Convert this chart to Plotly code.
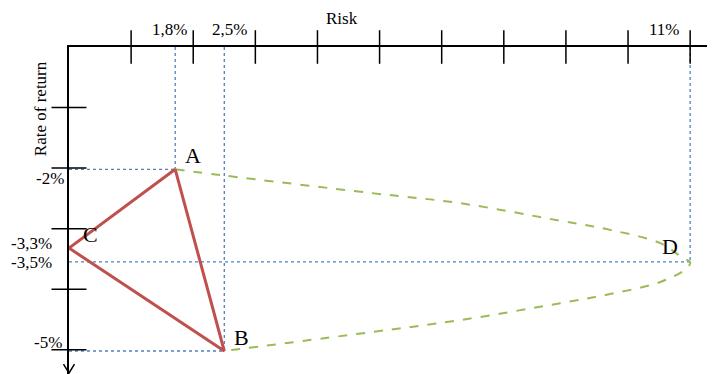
import plotly.graph_objects as go

# Portfolios (x in tick units, the picture is not to scale)
points = ["A", "B", "C", "D"]
risk = [1.71, 2.50, 0.0, 10.0]
ret = [-2.02, -5.02, -3.32, -3.55]

# Labels written on the axes
risk_labels = ["1,8%", "2,5%", "", "11%"]
ret_labels = ["-2%", "-5%", "-3,3%", "-3,5%"]

# Axis ticks
x_ticks = [1, 2, 3, 4, 5, 6, 7, 8, 9, 10]
y_ticks = [-1, -2, -3, -4, -5]

# Efficient frontier (green dashed curve) A -> D -> B
frontier_risk = [1.71, 2.48, 4.85, 6.30, 7.91, 8.71, 9.52, 9.89, 10.0,
                 9.95, 9.52, 8.71, 7.91, 6.30, 4.85, 2.50]
frontier_ret = [-2.02, -2.12, -2.41, -2.58, -2.87, -3.02, -3.24, -3.49, -3.55,
                -3.65, -3.88, -4.08, -4.23, -4.51, -4.71, -5.02]

FONT = "Liberation Serif, Times New Roman, serif"
RED = "#C0504D"
GREEN = "#9BBB59"
BLUE = "#4F81BD"

fig = go.Figure()

# dotted guide lines for A, B, D
gx, gy = [], []
for i in [0, 1, 3]:
    gx += [risk[i], risk[i], None, 0, risk[i], None]
    gy += [0, ret[i], None, ret[i], ret[i], None]
fig.add_trace(go.Scatter(x=gx, y=gy, mode="lines",
                         line=dict(color=BLUE, width=1.3, dash="dot"),
                         hoverinfo="skip"))

# frontier
fig.add_trace(go.Scatter(x=frontier_risk, y=frontier_ret, mode="lines",
                         line=dict(color=GREEN, width=2, dash="dash",
                                   shape="spline", smoothing=1)))

# triangle A-B-C
tri = [0, 1, 2, 0]
fig.add_trace(go.Scatter(x=[risk[i] for i in tri], y=[ret[i] for i in tri],
                         mode="lines", line=dict(color=RED, width=3)))

# tick marks crossing the axes
fig.add_trace(go.Scatter(x=x_ticks, y=[0] * len(x_ticks), mode="markers",
                         marker=dict(symbol="line-ns", size=24,
                                     line=dict(color="black", width=1.5)),
                         cliponaxis=False))
fig.add_trace(go.Scatter(x=[0] * len(y_ticks), y=y_ticks, mode="markers",
                         marker=dict(symbol="line-ew", size=25,
                                     line=dict(color="black", width=1.5)),
                         cliponaxis=False))

annotations = []
# point letters
letter_shift = [(18, 14), (17, 13), (21, 14), (-20, 15)]
for i, p in enumerate(points):
    annotations.append(dict(x=risk[i], y=ret[i], text=p, showarrow=False,
                            xshift=letter_shift[i][0], yshift=letter_shift[i][1],
                            font=dict(family=FONT, size=22, color="black")))
# risk labels above the axis
risk_shift = [-6, 5, 0, -8]
risk_anchor = ["center", "center", "center", "right"]
for i, lab in enumerate(risk_labels):
    if lab:
        annotations.append(dict(x=risk[i], y=0, text=lab, showarrow=False,
                                xanchor=risk_anchor[i], xshift=risk_shift[i], yshift=18,
                                font=dict(family=FONT, size=17, color="black")))
# return labels left of the axis
ret_xshift = [-3, -5, -15, -15]
ret_yshift = [-9, 8, 5, -1]
for i, lab in enumerate(ret_labels):
    annotations.append(dict(x=0, y=ret[i], text=lab, showarrow=False,
                            xanchor="right", xshift=ret_xshift[i], yshift=ret_yshift[i],
                            font=dict(family=FONT, size=17, color="black")))
# axis titles
annotations.append(dict(x=0.4226, y=1, xref="paper", yref="paper", text="Risk",
                        showarrow=False, xanchor="center", yanchor="middle", yshift=29,
                        font=dict(family=FONT, size=17, color="black")))
annotations.append(dict(x=0, y=0.81, xref="paper", yref="paper", text="Rate of return",
                        showarrow=False, textangle=-90, xanchor="center",
                        yanchor="middle", xshift=-29,
                        font=dict(family=FONT, size=17, color="black")))

# the page body has an 8px margin, so the figure margins are trimmed by 8px
fig.update_layout(
    width=715, height=374,
    margin=dict(l=61, r=8, t=39, b=8, autoexpand=False),
    paper_bgcolor="white", plot_bgcolor="white",
    showlegend=False,
    annotations=annotations,
    shapes=[dict(type="path", xref="paper", yref="paper",
                 path="M -0.0085,0.03 L 0,0.003 L 0.0085,0.03",
                 line=dict(color="black", width=1.5))],
    xaxis=dict(range=[0, 10.40], side="top", showline=True, linecolor="black",
               linewidth=1.5, showgrid=False, zeroline=False,
               showticklabels=False, ticks=""),
    yaxis=dict(range=[-5.40, 0], showline=True, linecolor="black",
               linewidth=1.5, showgrid=False, zeroline=False,
               showticklabels=False, ticks=""),
)

fig.write_html("out.html")
